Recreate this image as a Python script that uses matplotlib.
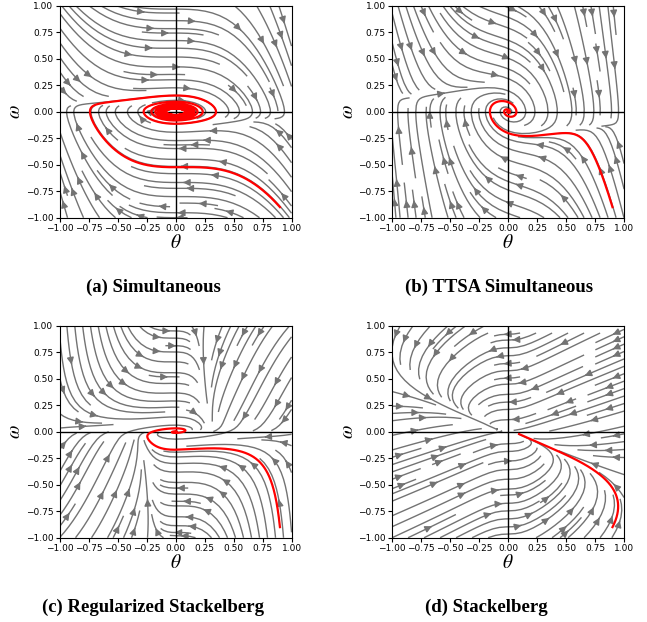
import numpy as np
import matplotlib
matplotlib.use('Agg')
import matplotlib.pyplot as plt

plt.rcParams['mathtext.fontset'] = 'stix'

# learning-dynamics parameters
a_lead = 7.0      # leader (theta) coupling, simultaneous
b_fol = 1.0       # follower (omega) coupling
k_curv = 16.0     # follower curvature
# two-timescale variant
a_tt, k_tt, tau, d_tt = 12.0, 8.0, 10.0, 0.5
# regularized stackelberg
alpha_r, beta_r, kappa_r, k_r, b_r, w_r = 0.7, 2.0, 2.0, 20.0, 0.8, 0.05
# stackelberg
a_s, c_s, g_s, d_s, e_s = 1.0, 0.76, 0.02, 0.73, 0.17
start = [0.9, -0.9]
t_end = [40.0, 20.0, 20.0, 20.0]

titles = ['(a) Simultaneous', '(b) TTSA Simultaneous',
          '(c) Regularized Stackelberg', '(d) Stackelberg']
kinds = ['sim', 'ttsa', 'regstack', 'stack']
ticks = [-1.0, -0.75, -0.5, -0.25, 0.0, 0.25, 0.5, 0.75, 1.0]


def field(th, om, kind):
    if kind == 'sim':
        u = a_lead * om * 2 / (1 + np.exp(th * om))
        v = -b_fol * th * (1 + k_curv * th * om)
    elif kind == 'ttsa':
        u = a_tt * om * 2 / (1 + np.exp(th * om))
        v = tau * (-b_fol * th * (1 + k_tt * th * om) - d_tt * om)
    elif kind == 'regstack':
        u = alpha_r * np.tanh(om / w_r) - beta_r * th * np.exp(kappa_r * th * om)
        v = -b_r * th * (1 + k_r * th * om)
    else:
        u = -a_s * om - c_s * th - g_s * om / th**2
        v = -d_s * om - e_s * th
    return u, v


def trajectory(kind, T, dt=0.0005):
    p = np.array(start, dtype=float)
    pts = [p.copy()]
    for i in range(int(T / dt)):
        u, v = field(p[0], p[1], kind)
        step = np.array([u, v]) * dt
        n = np.hypot(*step)
        if n > 0.003:
            step = step * 0.003 / n
        p = p + step
        pts.append(p.copy())
        if np.hypot(*p) < 0.004:
            break
    return np.array(pts)


fig = plt.figure(figsize=(6.47, 6.22), dpi=100)
lefts = [0.092, 0.606, 0.092, 0.606]
bottoms = [0.650, 0.650, 0.1355, 0.1355]
cap_x = [153, 499, 153, 486]
cap_y = [287, 287, 607, 607]

th = np.linspace(-1, 1, 200)
om = np.linspace(-1, 1, 200)
TH, OM = np.meshgrid(th, om)

for i in range(4):
    ax = fig.add_axes([lefts[i], bottoms[i], 0.3586, 0.3408])
    with np.errstate(all='ignore'):
        U, V = field(TH, OM, kinds[i])
    ax.streamplot(TH, OM, U, V, color='0.45', linewidth=1.0, density=1.0,
                  arrowsize=1.0)
    ax.axhline(0, color='k', lw=1.0)
    ax.axvline(0, color='k', lw=1.0)
    with np.errstate(all='ignore'):
        tr = trajectory(kinds[i], t_end[i])
    ax.plot(tr[:, 0], tr[:, 1], color='red', lw=1.6)
    ax.set_xlim(-1, 1)
    ax.set_ylim(-1, 1)
    ax.set_xticks(ticks)
    ax.set_yticks(ticks)
    ax.tick_params(labelsize=6.5, length=3, pad=1.5)
    ax.set_xlabel(r'$\theta$', fontsize=14, labelpad=0)
    ax.set_ylabel(r'$\omega$', fontsize=14, labelpad=1)
    fig.text(cap_x[i] / 647, 1 - cap_y[i] / 622, titles[i], ha='center', va='center',
             fontsize=13.5, fontweight='bold', family='Liberation Serif')

fig.savefig('out.png', dpi=100)
